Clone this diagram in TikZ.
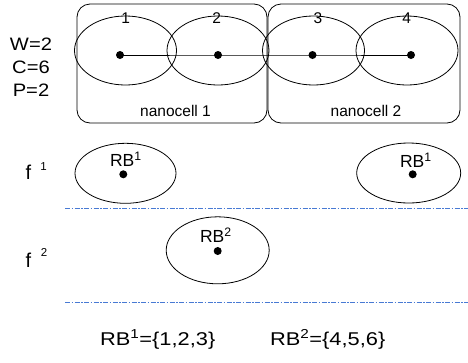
\documentclass[tikz,border=0pt]{standalone}
\usepackage{fontspec}
\setmainfont{Liberation Sans}
\usetikzlibrary{shapes.geometric}
\definecolor{guide}{RGB}{72,122,212}

% slightly widened text for the labels set in the larger type
\newcommand{\widen}[2]{\scalebox{#1}[1]{#2}}

\begin{document}
\begin{tikzpicture}[x=1pt,y=-1pt,
  every node/.style={inner sep=0pt, outer sep=0pt},
  cell/.style={draw, rectangle, rounded corners=13pt, minimum height=119pt, line width=0.8pt},
  zone/.style={draw, ellipse, line width=0.8pt},
  hub/.style={circle, fill, minimum size=8pt},
  sep/.style={draw=guide, line width=1pt, dash pattern=on 5pt off 1.5pt on 1.5pt off 1.5pt},
  param/.style={anchor=base, font=\fontsize{18}{20}\selectfont},
  idx/.style={font=\fontsize{15.5}{17}\selectfont},
  celltext/.style={anchor=base, font=\fontsize{15.5}{17}\selectfont},
  rbtext/.style={anchor=base west, font=\fontsize{17.5}{19}\selectfont},
  settext/.style={anchor=base west, font=\fontsize{18.5}{20}\selectfont},
  fname/.style={anchor=base, font=\fontsize{20}{22}\selectfont},
  fsup/.style={font=\fontsize{11.5}{13}\selectfont}
]
\useasboundingbox (0,0) rectangle (468,362);

% parameters
\node[param] (w) at (31,50.5) {\widen{1.12}{W=2}};
\node[param] (c) at (31,73.5) {\widen{1.12}{C=6}};
\node[param] (p) at (31,96.5) {\widen{1.12}{P=2}};

% nanocells
\node[cell, minimum width=190pt] (nc1) at (172,63.5) {};
\node[cell, minimum width=192pt] (nc2) at (364,63.5) {};
\node[celltext] (nc1t) at (175.5,116.5) {nanocell 1};
\node[celltext] (nc2t) at (366,116.5) {nanocell 2};

% coverage areas of the four cells
\node[zone, minimum width=102pt, minimum height=69pt] (e1) at (125.5,50.5) {};
\node[zone, minimum width=102pt, minimum height=69pt] (e2) at (218,50.5) {};
\node[zone, minimum width=102pt, minimum height=69pt] (e3) at (313.5,50.5) {};
\node[zone, minimum width=102pt, minimum height=69pt] (e4) at (407,50.5) {};

% cell indices
\node[idx] (l1) at (125.7,18.5) {1};
\node[idx] (l2) at (216.7,18.5) {2};
\node[idx] (l3) at (318,18.5) {3};
\node[idx] (l4) at (406.7,18.5) {4};

% cell sites on the line
\node[hub] (d1) at (120,55) {};
\node[hub] (d2) at (218,55) {};
\node[hub] (d3) at (312.5,55) {};
\node[hub] (d4) at (411,55) {};
\draw[line width=0.8pt] (d1.center) -- (d2.center) -- (d3.center) -- (d4.center);

% frequency rows
\node[fname] (f1) at (28.5,179.3) {f};
\node[fsup] (f1s) at (43.5,167) {1};
\node[fname] (f2) at (28.5,267.3) {f};
\node[fsup] (f2s) at (44,252) {2};

% resource blocks on f1
\node[zone, minimum width=101pt, minimum height=60pt] (rb1a) at (125.5,173.3) {};
\node[hub] (rb1ad) at (123.3,174.3) {};
\node[rbtext] (rb1at) at (110,166.7) {RB\textsuperscript{1}};
\node[zone, minimum width=104pt, minimum height=60pt] (rb1b) at (408.7,173) {};
\node[hub] (rb1bd) at (412.7,174.3) {};
\node[rbtext] (rb1bt) at (400,167.3) {RB\textsuperscript{1}};

% resource block on f2
\node[zone, minimum width=103pt, minimum height=67pt] (rb2) at (217.7,250.3) {};
\node[hub] (rb2d) at (217.7,251) {};
\node[rbtext] (rb2t) at (200,242.7) {RB\textsuperscript{2}};

% row separators
\coordinate (s1a) at (65,208);
\coordinate (s1b) at (468,208);
\coordinate (s2a) at (65,302);
\coordinate (s2b) at (468,302);
\draw[sep] (s1a) -- (s1b);
\draw[sep] (s2a) -- (s2b);

% block contents
\node[settext] (set1) at (100,345) {\widen{1.18}{RB\textsuperscript{1}=\{1,2,3\}}};
\node[settext] (set2) at (270,345) {\widen{1.18}{RB\textsuperscript{2}=\{4,5,6\}}};
\end{tikzpicture}
\end{document}
